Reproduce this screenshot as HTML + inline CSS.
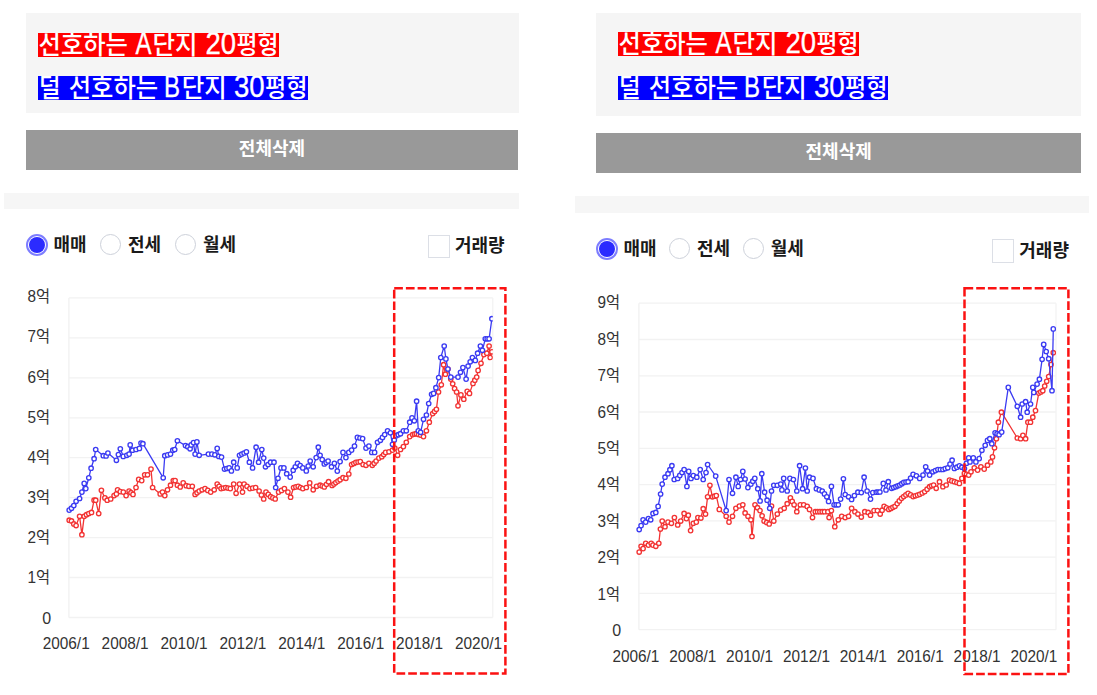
<!DOCTYPE html>
<html lang="ko"><head><meta charset="utf-8"><title>chart</title>
<style>
html,body{margin:0;padding:0;background:#fff}
body{width:1097px;height:695px;position:relative;overflow:hidden;font-family:"Liberation Sans","Noto Sans CJK KR",sans-serif}
.box{position:absolute;background:#f5f5f5}
.strip{position:absolute;background:#f6f6f6}
.tagsvg{position:absolute;overflow:hidden}
.tagsvg text{font-family:"Liberation Sans","Noto Sans CJK KR",sans-serif;font-size:26.5px;font-weight:500;fill:#fff}
.tagsvg text.lat{font-size:31px;font-weight:400;stroke:#fff;stroke-width:0.35px}
.btn{position:absolute;background:#999;color:#fff;font-weight:bold;font-size:18px;text-align:center}
.radio{position:absolute;width:19px;height:19px;border:1.5px solid #cdd1da;border-radius:50%;background:#fff}
.radio.on{border:2px solid #7d7dff;width:18px;height:18px}
.radio.on::after{content:"";position:absolute;left:1px;top:1px;width:16px;height:16px;border-radius:50%;background:#2b2bff}
.lbl{position:absolute;font-weight:bold;font-size:18px;line-height:24px;color:#1a1a1a;white-space:nowrap}
.cb{position:absolute;box-sizing:border-box;border:1px solid #dcdfe6;background:#fff}
</style></head><body>
<div class="box" style="left:25.7px;top:12.7px;width:492.90000000000003px;height:100.6px"></div>
<svg class="tagsvg" style="left:37.7px;top:32.7px" width="241.2" height="24" viewBox="0 0 241.2 24"><rect width="241.2" height="24" fill="#ff0000"/><text x="0.6" y="21.2" textLength="89.3" lengthAdjust="spacingAndGlyphs">선호하는</text><text class="lat" x="97.6" y="21.2" textLength="16" lengthAdjust="spacingAndGlyphs">A</text><text x="114.5" y="21.2" textLength="45" lengthAdjust="spacingAndGlyphs">단지</text><text class="lat" x="167.5" y="21.2" textLength="30.6" lengthAdjust="spacingAndGlyphs">20</text><text x="198.5" y="21.2" textLength="42" lengthAdjust="spacingAndGlyphs">평형</text></svg>
<svg class="tagsvg" style="left:37.7px;top:76.0px" width="270" height="24" viewBox="0 0 270 24"><rect width="270" height="24" fill="#0000ff"/><text x="0.9" y="21.2" textLength="21.6" lengthAdjust="spacingAndGlyphs">덜</text><text x="30.8" y="21.2" textLength="89.3" lengthAdjust="spacingAndGlyphs">선호하는</text><text class="lat" x="126.0" y="21.2" textLength="16" lengthAdjust="spacingAndGlyphs">B</text><text x="143.8" y="21.2" textLength="45" lengthAdjust="spacingAndGlyphs">단지</text><text class="lat" x="196" y="21.2" textLength="30.6" lengthAdjust="spacingAndGlyphs">30</text><text x="227" y="21.2" textLength="42.5" lengthAdjust="spacingAndGlyphs">평형</text></svg>
<div class="btn" style="left:25.8px;top:130.2px;width:492.40000000000003px;height:40.0px;line-height:39.0px">전체삭제</div>
<div class="strip" style="left:4px;top:192.5px;width:514.7px;height:16.099999999999994px"></div>
<div class="radio on" style="left:25.5px;top:233.5px"></div><div class="lbl" style="left:53.5px;top:232.5px">매매</div>
<div class="radio" style="left:100px;top:233.5px"></div><div class="lbl" style="left:128px;top:232.5px">전세</div>
<div class="radio" style="left:175px;top:233.5px"></div><div class="lbl" style="left:203px;top:232.5px">월세</div>
<div class="cb" style="left:427.8px;top:235px;width:22.0px;height:22.80000000000001px"></div><div class="lbl" style="left:455px;top:234.4px">거래량</div>
<div class="box" style="left:595.9px;top:12.6px;width:485.5000000000001px;height:103.30000000000001px"></div>
<svg class="tagsvg" style="left:618.2px;top:32.4px" width="241.2" height="24" viewBox="0 0 241.2 24"><rect width="241.2" height="24" fill="#ff0000"/><text x="0.6" y="21.2" textLength="89.3" lengthAdjust="spacingAndGlyphs">선호하는</text><text class="lat" x="97.6" y="21.2" textLength="16" lengthAdjust="spacingAndGlyphs">A</text><text x="114.5" y="21.2" textLength="45" lengthAdjust="spacingAndGlyphs">단지</text><text class="lat" x="167.5" y="21.2" textLength="30.6" lengthAdjust="spacingAndGlyphs">20</text><text x="198.5" y="21.2" textLength="42" lengthAdjust="spacingAndGlyphs">평형</text></svg>
<svg class="tagsvg" style="left:618.2px;top:76.0px" width="270" height="24" viewBox="0 0 270 24"><rect width="270" height="24" fill="#0000ff"/><text x="0.9" y="21.2" textLength="21.6" lengthAdjust="spacingAndGlyphs">덜</text><text x="30.8" y="21.2" textLength="89.3" lengthAdjust="spacingAndGlyphs">선호하는</text><text class="lat" x="126.0" y="21.2" textLength="16" lengthAdjust="spacingAndGlyphs">B</text><text x="143.8" y="21.2" textLength="45" lengthAdjust="spacingAndGlyphs">단지</text><text class="lat" x="196" y="21.2" textLength="30.6" lengthAdjust="spacingAndGlyphs">30</text><text x="227" y="21.2" textLength="42.5" lengthAdjust="spacingAndGlyphs">평형</text></svg>
<div class="btn" style="left:596.4px;top:132.5px;width:484.5000000000001px;height:40.69999999999999px;line-height:39.69999999999999px">전체삭제</div>
<div class="strip" style="left:575.1px;top:196.2px;width:514.3000000000001px;height:16.5px"></div>
<div class="radio on" style="left:595.8px;top:237.7px"></div><div class="lbl" style="left:623.5px;top:236.7px">매매</div>
<div class="radio" style="left:669.3px;top:237.7px"></div><div class="lbl" style="left:697.0px;top:236.7px">전세</div>
<div class="radio" style="left:743px;top:237.7px"></div><div class="lbl" style="left:770.7px;top:236.7px">월세</div>
<div class="cb" style="left:992.2px;top:239.4px;width:21.59999999999991px;height:23.299999999999983px"></div><div class="lbl" style="left:1019.3px;top:239.05px">거래량</div>
<svg width="1097" height="695" viewBox="0 0 1097 695" style="position:absolute;left:0;top:0">
<style>.ax{font-family:"Liberation Sans","Noto Sans CJK KR",sans-serif;font-size:16px;fill:#333}</style>
<line x1="68.9" y1="297.9" x2="492.8" y2="297.9" stroke="#f2f2f2" stroke-width="1.3"/>
<line x1="68.9" y1="337.8" x2="492.8" y2="337.8" stroke="#f2f2f2" stroke-width="1.3"/>
<line x1="68.9" y1="377.8" x2="492.8" y2="377.8" stroke="#f2f2f2" stroke-width="1.3"/>
<line x1="68.9" y1="417.8" x2="492.8" y2="417.8" stroke="#f2f2f2" stroke-width="1.3"/>
<line x1="68.9" y1="457.7" x2="492.8" y2="457.7" stroke="#f2f2f2" stroke-width="1.3"/>
<line x1="68.9" y1="497.6" x2="492.8" y2="497.6" stroke="#f2f2f2" stroke-width="1.3"/>
<line x1="68.9" y1="537.6" x2="492.8" y2="537.6" stroke="#f2f2f2" stroke-width="1.3"/>
<line x1="68.9" y1="577.5" x2="492.8" y2="577.5" stroke="#f2f2f2" stroke-width="1.3"/>
<line x1="68.9" y1="617.5" x2="492.8" y2="617.5" stroke="#f2f2f2" stroke-width="1.3"/>
<line x1="68.9" y1="297.9" x2="68.9" y2="617.5" stroke="#f0f0f0" stroke-width="1.3"/>
<line x1="492.8" y1="297.9" x2="492.8" y2="617.5" stroke="#f3f3f3" stroke-width="1.3"/>
<text x="50.0" y="302.3" text-anchor="end" class="ax" textLength="22.6" lengthAdjust="spacingAndGlyphs">8억</text>
<text x="50.0" y="342.4" text-anchor="end" class="ax" textLength="22.6" lengthAdjust="spacingAndGlyphs">7억</text>
<text x="50.0" y="382.6" text-anchor="end" class="ax" textLength="22.6" lengthAdjust="spacingAndGlyphs">6억</text>
<text x="50.0" y="422.7" text-anchor="end" class="ax" textLength="22.6" lengthAdjust="spacingAndGlyphs">5억</text>
<text x="50.0" y="462.9" text-anchor="end" class="ax" textLength="22.6" lengthAdjust="spacingAndGlyphs">4억</text>
<text x="50.0" y="503.0" text-anchor="end" class="ax" textLength="22.6" lengthAdjust="spacingAndGlyphs">3억</text>
<text x="50.0" y="543.2" text-anchor="end" class="ax" textLength="22.6" lengthAdjust="spacingAndGlyphs">2억</text>
<text x="50.0" y="583.4" text-anchor="end" class="ax" textLength="22.6" lengthAdjust="spacingAndGlyphs">1억</text>
<text x="51.1" y="623.5" text-anchor="end" class="ax">0</text>
<text x="66.2" y="649" text-anchor="middle" class="ax" textLength="47" lengthAdjust="spacingAndGlyphs">2006/1</text>
<text x="125.1" y="649" text-anchor="middle" class="ax" textLength="47" lengthAdjust="spacingAndGlyphs">2008/1</text>
<text x="184.0" y="649" text-anchor="middle" class="ax" textLength="47" lengthAdjust="spacingAndGlyphs">2010/1</text>
<text x="242.9" y="649" text-anchor="middle" class="ax" textLength="47" lengthAdjust="spacingAndGlyphs">2012/1</text>
<text x="301.8" y="649" text-anchor="middle" class="ax" textLength="47" lengthAdjust="spacingAndGlyphs">2014/1</text>
<text x="360.7" y="649" text-anchor="middle" class="ax" textLength="47" lengthAdjust="spacingAndGlyphs">2016/1</text>
<text x="419.6" y="649" text-anchor="middle" class="ax" textLength="47" lengthAdjust="spacingAndGlyphs">2018/1</text>
<text x="478.5" y="649" text-anchor="middle" class="ax" textLength="47" lengthAdjust="spacingAndGlyphs">2020/1</text>
<clipPath id="cpL"><rect x="65.9" y="294.9" width="426.9" height="325.6"/></clipPath>
<g clip-path="url(#cpL)">
<polyline points="69.2,520.2 71.5,520.9 73.8,523.9 76.1,525.5 79.6,516.3 81.9,534.7 84.2,516.3 86.5,514.7 88.8,513.5 91.5,512.4 94.1,500.2 95.7,500.2 98.7,513.5 101.4,490.3 104.9,497.9 107.2,500.2 110.7,499.0 114.1,495.6 116.4,493.9 117.6,489.8 120.3,491.6 123.3,492.1 126.1,495.6 129.1,491.0 131.0,492.7 133.0,494.4 136.0,487.5 138.7,479.4 141.7,480.6 144.7,474.8 147.5,474.8 151.0,469.1 152.6,487.5 160.2,493.9 162.5,492.1 164.8,495.6 167.5,489.8 170.5,485.2 173.3,480.6 175.1,480.6 177.4,485.2 180.2,487.0 183.2,482.9 186.2,485.7 188.9,486.3 192.3,486.3 195.1,494.4 197.1,492.7 199.2,491.0 202.1,489.8 205.0,488.6 207.8,490.4 210.7,492.1 214.2,489.8 217.2,484.0 219.1,486.3 221.1,488.6 223.4,488.1 225.7,487.5 228.0,488.1 230.3,488.6 233.7,484.0 236.1,493.3 239.5,484.0 242.5,492.1 244.1,484.0 247.0,486.3 249.9,488.6 252.7,488.1 255.6,487.5 259.1,491.0 261.4,495.0 263.7,499.0 266.0,492.1 268.3,494.4 270.6,496.7 272.9,497.9 275.2,499.0 278.6,492.1 281.5,490.4 284.4,488.6 287.9,492.1 290.6,497.2 293.6,487.5 295.9,486.9 298.2,486.3 300.5,487.5 302.8,488.6 306.3,487.5 309.7,482.9 313.2,489.8 316.6,486.3 320.1,485.2 322.2,486.0 324.3,486.9 326.5,484.3 328.6,481.7 332.1,485.5 333.9,484.0 335.8,482.6 338.0,481.1 340.1,479.7 343.0,477.7 345.9,478.3 348.8,474.0 351.6,464.5 353.8,463.5 355.9,462.4 358.1,462.0 360.3,461.6 363.1,464.5 366.0,465.3 368.9,463.3 372.3,465.3 374.2,463.2 376.1,461.0 378.9,458.1 381.8,456.7 383.7,454.5 385.6,452.4 389.0,451.8 392.5,450.1 394.8,448.1 397.6,455.3 400.5,449.5 403.4,446.6 406.3,442.3 409.7,436.6 412.6,434.6 414.5,434.1 416.3,433.7 418.5,434.4 420.6,435.1 423.5,436.6 426.4,430.8 429.3,422.2 432.7,413.6 434.6,411.4 436.4,409.3 438.5,392.0 441.3,384.8 443.6,364.7 445.4,374.2 447.9,369.0 450.8,379.1 452.7,383.8 454.6,388.6 456.6,392.0 458.0,405.8 460.9,394.9 463.8,399.2 467.2,391.4 469.5,393.4 473.0,383.4 474.8,380.2 476.7,377.1 478.1,370.4 481.0,363.3 483.9,354.6 486.8,353.2 489.1,346.0 490.2,357.5 491.9,351.8" fill="none" stroke="#f23333" stroke-width="1.3" stroke-linejoin="round"/>
<g fill="#fff" stroke="#f23333" stroke-width="1.35"><circle cx="69.2" cy="520.2" r="2.2"/><circle cx="71.5" cy="520.9" r="2.2"/><circle cx="73.8" cy="523.9" r="2.2"/><circle cx="76.1" cy="525.5" r="2.2"/><circle cx="79.6" cy="516.3" r="2.2"/><circle cx="81.9" cy="534.7" r="2.2"/><circle cx="84.2" cy="516.3" r="2.2"/><circle cx="86.5" cy="514.7" r="2.2"/><circle cx="88.8" cy="513.5" r="2.2"/><circle cx="91.5" cy="512.4" r="2.2"/><circle cx="94.1" cy="500.2" r="2.2"/><circle cx="95.7" cy="500.2" r="2.2"/><circle cx="98.7" cy="513.5" r="2.2"/><circle cx="101.4" cy="490.3" r="2.2"/><circle cx="104.9" cy="497.9" r="2.2"/><circle cx="107.2" cy="500.2" r="2.2"/><circle cx="110.7" cy="499.0" r="2.2"/><circle cx="114.1" cy="495.6" r="2.2"/><circle cx="116.4" cy="493.9" r="2.2"/><circle cx="117.6" cy="489.8" r="2.2"/><circle cx="120.3" cy="491.6" r="2.2"/><circle cx="123.3" cy="492.1" r="2.2"/><circle cx="126.1" cy="495.6" r="2.2"/><circle cx="129.1" cy="491.0" r="2.2"/><circle cx="131.0" cy="492.7" r="2.2"/><circle cx="133.0" cy="494.4" r="2.2"/><circle cx="136.0" cy="487.5" r="2.2"/><circle cx="138.7" cy="479.4" r="2.2"/><circle cx="141.7" cy="480.6" r="2.2"/><circle cx="144.7" cy="474.8" r="2.2"/><circle cx="147.5" cy="474.8" r="2.2"/><circle cx="151.0" cy="469.1" r="2.2"/><circle cx="152.6" cy="487.5" r="2.2"/><circle cx="160.2" cy="493.9" r="2.2"/><circle cx="162.5" cy="492.1" r="2.2"/><circle cx="164.8" cy="495.6" r="2.2"/><circle cx="167.5" cy="489.8" r="2.2"/><circle cx="170.5" cy="485.2" r="2.2"/><circle cx="173.3" cy="480.6" r="2.2"/><circle cx="175.1" cy="480.6" r="2.2"/><circle cx="177.4" cy="485.2" r="2.2"/><circle cx="180.2" cy="487.0" r="2.2"/><circle cx="183.2" cy="482.9" r="2.2"/><circle cx="186.2" cy="485.7" r="2.2"/><circle cx="188.9" cy="486.3" r="2.2"/><circle cx="192.3" cy="486.3" r="2.2"/><circle cx="195.1" cy="494.4" r="2.2"/><circle cx="197.1" cy="492.7" r="2.2"/><circle cx="199.2" cy="491.0" r="2.2"/><circle cx="202.1" cy="489.8" r="2.2"/><circle cx="205.0" cy="488.6" r="2.2"/><circle cx="207.8" cy="490.4" r="2.2"/><circle cx="210.7" cy="492.1" r="2.2"/><circle cx="214.2" cy="489.8" r="2.2"/><circle cx="217.2" cy="484.0" r="2.2"/><circle cx="219.1" cy="486.3" r="2.2"/><circle cx="221.1" cy="488.6" r="2.2"/><circle cx="223.4" cy="488.1" r="2.2"/><circle cx="225.7" cy="487.5" r="2.2"/><circle cx="228.0" cy="488.1" r="2.2"/><circle cx="230.3" cy="488.6" r="2.2"/><circle cx="233.7" cy="484.0" r="2.2"/><circle cx="236.1" cy="493.3" r="2.2"/><circle cx="239.5" cy="484.0" r="2.2"/><circle cx="242.5" cy="492.1" r="2.2"/><circle cx="244.1" cy="484.0" r="2.2"/><circle cx="247.0" cy="486.3" r="2.2"/><circle cx="249.9" cy="488.6" r="2.2"/><circle cx="252.7" cy="488.1" r="2.2"/><circle cx="255.6" cy="487.5" r="2.2"/><circle cx="259.1" cy="491.0" r="2.2"/><circle cx="261.4" cy="495.0" r="2.2"/><circle cx="263.7" cy="499.0" r="2.2"/><circle cx="266.0" cy="492.1" r="2.2"/><circle cx="268.3" cy="494.4" r="2.2"/><circle cx="270.6" cy="496.7" r="2.2"/><circle cx="272.9" cy="497.9" r="2.2"/><circle cx="275.2" cy="499.0" r="2.2"/><circle cx="278.6" cy="492.1" r="2.2"/><circle cx="281.5" cy="490.4" r="2.2"/><circle cx="284.4" cy="488.6" r="2.2"/><circle cx="287.9" cy="492.1" r="2.2"/><circle cx="290.6" cy="497.2" r="2.2"/><circle cx="293.6" cy="487.5" r="2.2"/><circle cx="295.9" cy="486.9" r="2.2"/><circle cx="298.2" cy="486.3" r="2.2"/><circle cx="300.5" cy="487.5" r="2.2"/><circle cx="302.8" cy="488.6" r="2.2"/><circle cx="306.3" cy="487.5" r="2.2"/><circle cx="309.7" cy="482.9" r="2.2"/><circle cx="313.2" cy="489.8" r="2.2"/><circle cx="316.6" cy="486.3" r="2.2"/><circle cx="320.1" cy="485.2" r="2.2"/><circle cx="322.2" cy="486.0" r="2.2"/><circle cx="324.3" cy="486.9" r="2.2"/><circle cx="326.5" cy="484.3" r="2.2"/><circle cx="328.6" cy="481.7" r="2.2"/><circle cx="332.1" cy="485.5" r="2.2"/><circle cx="333.9" cy="484.0" r="2.2"/><circle cx="335.8" cy="482.6" r="2.2"/><circle cx="338.0" cy="481.1" r="2.2"/><circle cx="340.1" cy="479.7" r="2.2"/><circle cx="343.0" cy="477.7" r="2.2"/><circle cx="345.9" cy="478.3" r="2.2"/><circle cx="348.8" cy="474.0" r="2.2"/><circle cx="351.6" cy="464.5" r="2.2"/><circle cx="353.8" cy="463.5" r="2.2"/><circle cx="355.9" cy="462.4" r="2.2"/><circle cx="358.1" cy="462.0" r="2.2"/><circle cx="360.3" cy="461.6" r="2.2"/><circle cx="363.1" cy="464.5" r="2.2"/><circle cx="366.0" cy="465.3" r="2.2"/><circle cx="368.9" cy="463.3" r="2.2"/><circle cx="372.3" cy="465.3" r="2.2"/><circle cx="374.2" cy="463.2" r="2.2"/><circle cx="376.1" cy="461.0" r="2.2"/><circle cx="378.9" cy="458.1" r="2.2"/><circle cx="381.8" cy="456.7" r="2.2"/><circle cx="383.7" cy="454.5" r="2.2"/><circle cx="385.6" cy="452.4" r="2.2"/><circle cx="389.0" cy="451.8" r="2.2"/><circle cx="392.5" cy="450.1" r="2.2"/><circle cx="394.8" cy="448.1" r="2.2"/><circle cx="397.6" cy="455.3" r="2.2"/><circle cx="400.5" cy="449.5" r="2.2"/><circle cx="403.4" cy="446.6" r="2.2"/><circle cx="406.3" cy="442.3" r="2.2"/><circle cx="409.7" cy="436.6" r="2.2"/><circle cx="412.6" cy="434.6" r="2.2"/><circle cx="414.5" cy="434.1" r="2.2"/><circle cx="416.3" cy="433.7" r="2.2"/><circle cx="418.5" cy="434.4" r="2.2"/><circle cx="420.6" cy="435.1" r="2.2"/><circle cx="423.5" cy="436.6" r="2.2"/><circle cx="426.4" cy="430.8" r="2.2"/><circle cx="429.3" cy="422.2" r="2.2"/><circle cx="432.7" cy="413.6" r="2.2"/><circle cx="434.6" cy="411.4" r="2.2"/><circle cx="436.4" cy="409.3" r="2.2"/><circle cx="438.5" cy="392.0" r="2.2"/><circle cx="441.3" cy="384.8" r="2.2"/><circle cx="443.6" cy="364.7" r="2.2"/><circle cx="445.4" cy="374.2" r="2.2"/><circle cx="447.9" cy="369.0" r="2.2"/><circle cx="450.8" cy="379.1" r="2.2"/><circle cx="452.7" cy="383.8" r="2.2"/><circle cx="454.6" cy="388.6" r="2.2"/><circle cx="456.6" cy="392.0" r="2.2"/><circle cx="458.0" cy="405.8" r="2.2"/><circle cx="460.9" cy="394.9" r="2.2"/><circle cx="463.8" cy="399.2" r="2.2"/><circle cx="467.2" cy="391.4" r="2.2"/><circle cx="469.5" cy="393.4" r="2.2"/><circle cx="473.0" cy="383.4" r="2.2"/><circle cx="474.8" cy="380.2" r="2.2"/><circle cx="476.7" cy="377.1" r="2.2"/><circle cx="478.1" cy="370.4" r="2.2"/><circle cx="481.0" cy="363.3" r="2.2"/><circle cx="483.9" cy="354.6" r="2.2"/><circle cx="486.8" cy="353.2" r="2.2"/><circle cx="489.1" cy="346.0" r="2.2"/><circle cx="490.2" cy="357.5" r="2.2"/><circle cx="491.9" cy="351.8" r="2.2"/></g>
<polyline points="69.2,510.1 71.5,508.2 73.8,505.5 76.1,501.3 79.6,498.5 81.9,492.1 84.2,483.4 85.8,488.6 88.8,477.8 91.1,468.2 94.1,458.7 95.7,449.5 103.3,455.7 106.1,456.0 107.9,453.0 116.4,460.3 118.4,454.6 120.3,448.8 123.3,456.4 126.8,455.3 129.1,454.1 130.2,444.9 132.5,450.2 136.0,449.5 139.4,448.4 141.0,443.1 142.9,443.7 163.2,477.8 164.8,455.7 167.6,454.9 170.5,454.1 172.8,450.2 174.7,449.5 177.4,440.8 185.5,445.6 187.8,446.7 190.1,448.8 191.2,444.9 193.5,442.6 195.1,454.1 196.9,441.9 199.2,455.3 208.4,454.1 211.9,454.1 214.9,454.8 217.2,448.4 218.8,456.4 221.5,457.1 224.5,469.1 226.8,468.5 229.1,467.9 231.4,470.9 233.7,462.2 237.2,467.9 239.5,455.3 241.8,454.1 244.1,453.0 246.4,451.8 249.4,462.2 252.6,467.9 256.1,447.2 258.6,462.2 261.8,449.5 263.7,458.1 265.5,466.8 268.1,464.5 270.6,462.2 274.0,462.2 275.7,487.5 278.0,478.3 281.0,467.9 283.9,467.9 286.7,473.7 290.2,477.1 293.2,470.2 295.3,466.8 297.5,463.3 300.2,465.6 302.8,467.9 306.3,470.9 308.2,466.0 310.2,461.0 313.2,466.8 316.2,457.6 318.3,447.2 320.1,455.3 322.2,459.6 324.3,463.9 326.2,462.4 328.1,461.0 331.5,466.8 334.4,463.3 337.3,471.1 340.1,461.6 343.0,452.4 345.9,457.6 348.8,452.4 351.6,450.1 354.5,446.1 357.4,437.4 360.0,438.0 362.6,438.6 366.0,448.1 368.9,446.1 371.8,452.4 374.6,452.4 377.5,442.3 380.4,440.3 382.5,437.4 384.7,434.6 387.6,430.8 390.4,432.8 392.5,444.3 394.3,440.0 396.2,435.7 398.3,434.7 400.5,433.7 403.4,430.8 406.3,430.8 409.7,422.2 412.0,417.9 414.3,420.8 416.6,401.2 418.3,430.8 420.6,432.3 423.5,419.3 426.4,415.0 428.7,403.5 431.6,394.3 433.6,393.4 435.9,387.7 438.7,377.6 440.8,357.5 444.2,346.0 445.9,358.9 447.9,369.0 450.8,377.1 458.0,377.1 460.5,372.3 462.9,367.6 466.1,379.1 468.1,366.1 470.2,361.8 472.4,357.5 475.3,360.4 477.6,353.2 480.4,346.0 482.4,350.3 485.3,338.8 487.2,338.8 489.1,338.8 491.9,318.7" fill="none" stroke="#3b3bf2" stroke-width="1.3" stroke-linejoin="round"/>
<g fill="#fff" stroke="#3b3bf2" stroke-width="1.35"><circle cx="69.2" cy="510.1" r="2.2"/><circle cx="71.5" cy="508.2" r="2.2"/><circle cx="73.8" cy="505.5" r="2.2"/><circle cx="76.1" cy="501.3" r="2.2"/><circle cx="79.6" cy="498.5" r="2.2"/><circle cx="81.9" cy="492.1" r="2.2"/><circle cx="84.2" cy="483.4" r="2.2"/><circle cx="85.8" cy="488.6" r="2.2"/><circle cx="88.8" cy="477.8" r="2.2"/><circle cx="91.1" cy="468.2" r="2.2"/><circle cx="94.1" cy="458.7" r="2.2"/><circle cx="95.7" cy="449.5" r="2.2"/><circle cx="103.3" cy="455.7" r="2.2"/><circle cx="106.1" cy="456.0" r="2.2"/><circle cx="107.9" cy="453.0" r="2.2"/><circle cx="116.4" cy="460.3" r="2.2"/><circle cx="118.4" cy="454.6" r="2.2"/><circle cx="120.3" cy="448.8" r="2.2"/><circle cx="123.3" cy="456.4" r="2.2"/><circle cx="126.8" cy="455.3" r="2.2"/><circle cx="129.1" cy="454.1" r="2.2"/><circle cx="130.2" cy="444.9" r="2.2"/><circle cx="132.5" cy="450.2" r="2.2"/><circle cx="136.0" cy="449.5" r="2.2"/><circle cx="139.4" cy="448.4" r="2.2"/><circle cx="141.0" cy="443.1" r="2.2"/><circle cx="142.9" cy="443.7" r="2.2"/><circle cx="163.2" cy="477.8" r="2.2"/><circle cx="164.8" cy="455.7" r="2.2"/><circle cx="167.6" cy="454.9" r="2.2"/><circle cx="170.5" cy="454.1" r="2.2"/><circle cx="172.8" cy="450.2" r="2.2"/><circle cx="174.7" cy="449.5" r="2.2"/><circle cx="177.4" cy="440.8" r="2.2"/><circle cx="185.5" cy="445.6" r="2.2"/><circle cx="187.8" cy="446.7" r="2.2"/><circle cx="190.1" cy="448.8" r="2.2"/><circle cx="191.2" cy="444.9" r="2.2"/><circle cx="193.5" cy="442.6" r="2.2"/><circle cx="195.1" cy="454.1" r="2.2"/><circle cx="196.9" cy="441.9" r="2.2"/><circle cx="199.2" cy="455.3" r="2.2"/><circle cx="208.4" cy="454.1" r="2.2"/><circle cx="211.9" cy="454.1" r="2.2"/><circle cx="214.9" cy="454.8" r="2.2"/><circle cx="217.2" cy="448.4" r="2.2"/><circle cx="218.8" cy="456.4" r="2.2"/><circle cx="221.5" cy="457.1" r="2.2"/><circle cx="224.5" cy="469.1" r="2.2"/><circle cx="226.8" cy="468.5" r="2.2"/><circle cx="229.1" cy="467.9" r="2.2"/><circle cx="231.4" cy="470.9" r="2.2"/><circle cx="233.7" cy="462.2" r="2.2"/><circle cx="237.2" cy="467.9" r="2.2"/><circle cx="239.5" cy="455.3" r="2.2"/><circle cx="241.8" cy="454.1" r="2.2"/><circle cx="244.1" cy="453.0" r="2.2"/><circle cx="246.4" cy="451.8" r="2.2"/><circle cx="249.4" cy="462.2" r="2.2"/><circle cx="252.6" cy="467.9" r="2.2"/><circle cx="256.1" cy="447.2" r="2.2"/><circle cx="258.6" cy="462.2" r="2.2"/><circle cx="261.8" cy="449.5" r="2.2"/><circle cx="263.7" cy="458.1" r="2.2"/><circle cx="265.5" cy="466.8" r="2.2"/><circle cx="268.1" cy="464.5" r="2.2"/><circle cx="270.6" cy="462.2" r="2.2"/><circle cx="274.0" cy="462.2" r="2.2"/><circle cx="275.7" cy="487.5" r="2.2"/><circle cx="278.0" cy="478.3" r="2.2"/><circle cx="281.0" cy="467.9" r="2.2"/><circle cx="283.9" cy="467.9" r="2.2"/><circle cx="286.7" cy="473.7" r="2.2"/><circle cx="290.2" cy="477.1" r="2.2"/><circle cx="293.2" cy="470.2" r="2.2"/><circle cx="295.3" cy="466.8" r="2.2"/><circle cx="297.5" cy="463.3" r="2.2"/><circle cx="300.2" cy="465.6" r="2.2"/><circle cx="302.8" cy="467.9" r="2.2"/><circle cx="306.3" cy="470.9" r="2.2"/><circle cx="308.2" cy="466.0" r="2.2"/><circle cx="310.2" cy="461.0" r="2.2"/><circle cx="313.2" cy="466.8" r="2.2"/><circle cx="316.2" cy="457.6" r="2.2"/><circle cx="318.3" cy="447.2" r="2.2"/><circle cx="320.1" cy="455.3" r="2.2"/><circle cx="322.2" cy="459.6" r="2.2"/><circle cx="324.3" cy="463.9" r="2.2"/><circle cx="326.2" cy="462.4" r="2.2"/><circle cx="328.1" cy="461.0" r="2.2"/><circle cx="331.5" cy="466.8" r="2.2"/><circle cx="334.4" cy="463.3" r="2.2"/><circle cx="337.3" cy="471.1" r="2.2"/><circle cx="340.1" cy="461.6" r="2.2"/><circle cx="343.0" cy="452.4" r="2.2"/><circle cx="345.9" cy="457.6" r="2.2"/><circle cx="348.8" cy="452.4" r="2.2"/><circle cx="351.6" cy="450.1" r="2.2"/><circle cx="354.5" cy="446.1" r="2.2"/><circle cx="357.4" cy="437.4" r="2.2"/><circle cx="360.0" cy="438.0" r="2.2"/><circle cx="362.6" cy="438.6" r="2.2"/><circle cx="366.0" cy="448.1" r="2.2"/><circle cx="368.9" cy="446.1" r="2.2"/><circle cx="371.8" cy="452.4" r="2.2"/><circle cx="374.6" cy="452.4" r="2.2"/><circle cx="377.5" cy="442.3" r="2.2"/><circle cx="380.4" cy="440.3" r="2.2"/><circle cx="382.5" cy="437.4" r="2.2"/><circle cx="384.7" cy="434.6" r="2.2"/><circle cx="387.6" cy="430.8" r="2.2"/><circle cx="390.4" cy="432.8" r="2.2"/><circle cx="392.5" cy="444.3" r="2.2"/><circle cx="394.3" cy="440.0" r="2.2"/><circle cx="396.2" cy="435.7" r="2.2"/><circle cx="398.3" cy="434.7" r="2.2"/><circle cx="400.5" cy="433.7" r="2.2"/><circle cx="403.4" cy="430.8" r="2.2"/><circle cx="406.3" cy="430.8" r="2.2"/><circle cx="409.7" cy="422.2" r="2.2"/><circle cx="412.0" cy="417.9" r="2.2"/><circle cx="414.3" cy="420.8" r="2.2"/><circle cx="416.6" cy="401.2" r="2.2"/><circle cx="418.3" cy="430.8" r="2.2"/><circle cx="420.6" cy="432.3" r="2.2"/><circle cx="423.5" cy="419.3" r="2.2"/><circle cx="426.4" cy="415.0" r="2.2"/><circle cx="428.7" cy="403.5" r="2.2"/><circle cx="431.6" cy="394.3" r="2.2"/><circle cx="433.6" cy="393.4" r="2.2"/><circle cx="435.9" cy="387.7" r="2.2"/><circle cx="438.7" cy="377.6" r="2.2"/><circle cx="440.8" cy="357.5" r="2.2"/><circle cx="444.2" cy="346.0" r="2.2"/><circle cx="445.9" cy="358.9" r="2.2"/><circle cx="447.9" cy="369.0" r="2.2"/><circle cx="450.8" cy="377.1" r="2.2"/><circle cx="458.0" cy="377.1" r="2.2"/><circle cx="460.5" cy="372.3" r="2.2"/><circle cx="462.9" cy="367.6" r="2.2"/><circle cx="466.1" cy="379.1" r="2.2"/><circle cx="468.1" cy="366.1" r="2.2"/><circle cx="470.2" cy="361.8" r="2.2"/><circle cx="472.4" cy="357.5" r="2.2"/><circle cx="475.3" cy="360.4" r="2.2"/><circle cx="477.6" cy="353.2" r="2.2"/><circle cx="480.4" cy="346.0" r="2.2"/><circle cx="482.4" cy="350.3" r="2.2"/><circle cx="485.3" cy="338.8" r="2.2"/><circle cx="487.2" cy="338.8" r="2.2"/><circle cx="489.1" cy="338.8" r="2.2"/><circle cx="491.9" cy="318.7" r="2.2"/></g>
</g>
<rect x="394.2" y="288.2" width="111.19999999999999" height="385.3" fill="none" stroke="#fb1212" stroke-width="2.5" stroke-dasharray="8.7,3"/>
<line x1="638.9" y1="303.2" x2="1056" y2="303.2" stroke="#f2f2f2" stroke-width="1.3"/>
<line x1="638.9" y1="339.5" x2="1056" y2="339.5" stroke="#f2f2f2" stroke-width="1.3"/>
<line x1="638.9" y1="375.8" x2="1056" y2="375.8" stroke="#f2f2f2" stroke-width="1.3"/>
<line x1="638.9" y1="412.0" x2="1056" y2="412.0" stroke="#f2f2f2" stroke-width="1.3"/>
<line x1="638.9" y1="448.3" x2="1056" y2="448.3" stroke="#f2f2f2" stroke-width="1.3"/>
<line x1="638.9" y1="484.6" x2="1056" y2="484.6" stroke="#f2f2f2" stroke-width="1.3"/>
<line x1="638.9" y1="520.9" x2="1056" y2="520.9" stroke="#f2f2f2" stroke-width="1.3"/>
<line x1="638.9" y1="557.1" x2="1056" y2="557.1" stroke="#f2f2f2" stroke-width="1.3"/>
<line x1="638.9" y1="593.4" x2="1056" y2="593.4" stroke="#f2f2f2" stroke-width="1.3"/>
<line x1="638.9" y1="629.7" x2="1056" y2="629.7" stroke="#f2f2f2" stroke-width="1.3"/>
<line x1="638.9" y1="303.2" x2="638.9" y2="629.7" stroke="#f0f0f0" stroke-width="1.3"/>
<line x1="1056" y1="303.2" x2="1056" y2="629.7" stroke="#f3f3f3" stroke-width="1.3"/>
<text x="620.0" y="308.3" text-anchor="end" class="ax" textLength="22.6" lengthAdjust="spacingAndGlyphs">9억</text>
<text x="620.0" y="344.7" text-anchor="end" class="ax" textLength="22.6" lengthAdjust="spacingAndGlyphs">8억</text>
<text x="620.0" y="381.1" text-anchor="end" class="ax" textLength="22.6" lengthAdjust="spacingAndGlyphs">7억</text>
<text x="620.0" y="417.5" text-anchor="end" class="ax" textLength="22.6" lengthAdjust="spacingAndGlyphs">6억</text>
<text x="620.0" y="453.9" text-anchor="end" class="ax" textLength="22.6" lengthAdjust="spacingAndGlyphs">5억</text>
<text x="620.0" y="490.3" text-anchor="end" class="ax" textLength="22.6" lengthAdjust="spacingAndGlyphs">4억</text>
<text x="620.0" y="526.7" text-anchor="end" class="ax" textLength="22.6" lengthAdjust="spacingAndGlyphs">3억</text>
<text x="620.0" y="563.1" text-anchor="end" class="ax" textLength="22.6" lengthAdjust="spacingAndGlyphs">2억</text>
<text x="620.0" y="599.5" text-anchor="end" class="ax" textLength="22.6" lengthAdjust="spacingAndGlyphs">1억</text>
<text x="621.1" y="635.9" text-anchor="end" class="ax">0</text>
<text x="635.9" y="661.5" text-anchor="middle" class="ax" textLength="47" lengthAdjust="spacingAndGlyphs">2006/1</text>
<text x="692.8" y="661.5" text-anchor="middle" class="ax" textLength="47" lengthAdjust="spacingAndGlyphs">2008/1</text>
<text x="749.6" y="661.5" text-anchor="middle" class="ax" textLength="47" lengthAdjust="spacingAndGlyphs">2010/1</text>
<text x="806.5" y="661.5" text-anchor="middle" class="ax" textLength="47" lengthAdjust="spacingAndGlyphs">2012/1</text>
<text x="863.3" y="661.5" text-anchor="middle" class="ax" textLength="47" lengthAdjust="spacingAndGlyphs">2014/1</text>
<text x="920.2" y="661.5" text-anchor="middle" class="ax" textLength="47" lengthAdjust="spacingAndGlyphs">2016/1</text>
<text x="977.1" y="661.5" text-anchor="middle" class="ax" textLength="47" lengthAdjust="spacingAndGlyphs">2018/1</text>
<text x="1033.9" y="661.5" text-anchor="middle" class="ax" textLength="47" lengthAdjust="spacingAndGlyphs">2020/1</text>
<clipPath id="cpR"><rect x="635.9" y="300.2" width="420.1" height="332.50000000000006"/></clipPath>
<g clip-path="url(#cpR)">
<polyline points="639.2,552.0 641.1,546.3 643.1,548.6 645.7,543.3 648.4,545.1 651.2,543.3 653.0,545.1 655.8,546.3 658.8,543.3 660.4,529.0 662.2,521.0 665.0,526.7 668.0,522.1 671.4,523.3 674.4,517.5 677.7,524.9 680.7,521.0 684.1,513.4 686.4,518.6 688.3,515.2 690.6,530.6 693.3,523.3 696.3,522.1 697.9,517.5 700.9,518.0 703.2,508.7 705.5,514.0 707.6,496.8 709.9,485.3 712.4,496.8 714.4,496.2 716.3,495.6 719.3,509.4 726.2,516.3 729.0,522.1 732.5,516.3 735.9,508.3 739.4,506.0 742.8,504.8 745.1,512.9 748.0,516.3 750.9,519.8 752.0,536.4 755.0,504.8 757.5,507.7 760.0,510.6 762.1,515.8 764.1,521.0 766.7,522.4 769.2,523.9 771.5,506.0 773.8,521.0 777.3,514.0 780.7,510.1 784.2,508.3 787.2,503.7 790.4,497.9 792.2,501.4 794.1,504.8 796.8,511.7 800.3,504.8 803.7,504.8 807.2,506.4 809.5,509.4 812.5,517.5 815.3,511.7 817.6,511.7 819.9,511.7 822.2,511.7 824.5,511.7 827.9,511.7 829.1,517.5 831.4,510.6 834.8,526.7 838.3,519.8 841.7,516.3 845.2,517.5 848.6,516.3 851.6,508.3 854.9,511.7 857.9,514.0 861.3,517.0 864.8,511.7 868.2,512.4 870.5,515.2 874.0,510.6 877.4,510.6 880.2,514.0 882.1,510.2 884.1,506.3 886.5,507.9 888.8,509.4 890.9,508.4 892.9,507.3 895.0,506.3 897.2,503.6 899.3,500.9 901.5,498.3 903.7,496.6 905.9,494.9 908.1,493.3 910.6,494.9 913.1,496.6 915.3,495.8 917.5,495.1 919.7,494.3 922.2,493.0 924.7,491.6 927.1,489.2 929.6,486.7 931.6,485.8 933.6,485.0 936.2,488.3 939.5,481.7 942.9,486.7 946.2,485.0 949.5,480.1 951.9,480.9 954.4,481.7 956.9,482.5 959.4,483.4 961.9,478.4 964.4,473.4 966.5,474.3 968.7,475.1 971.0,471.8 974.3,467.8 977.6,470.1 980.9,466.8 984.2,469.1 987.5,465.2 990.8,461.9 992.5,456.9 994.5,447.8 996.4,438.7 998.4,422.2 1001.4,412.2 1017.3,438.0 1020.6,438.7 1022.9,435.4 1025.6,438.7 1027.9,422.2 1030.5,422.2 1032.8,417.2 1035.5,410.6 1038.8,393.1 1040.8,391.9 1042.8,390.7 1044.7,386.0 1046.7,381.3 1048.7,376.5 1051.0,364.6 1053.3,352.7" fill="none" stroke="#f23333" stroke-width="1.3" stroke-linejoin="round"/>
<g fill="#fff" stroke="#f23333" stroke-width="1.35"><circle cx="639.2" cy="552.0" r="2.2"/><circle cx="641.1" cy="546.3" r="2.2"/><circle cx="643.1" cy="548.6" r="2.2"/><circle cx="645.7" cy="543.3" r="2.2"/><circle cx="648.4" cy="545.1" r="2.2"/><circle cx="651.2" cy="543.3" r="2.2"/><circle cx="653.0" cy="545.1" r="2.2"/><circle cx="655.8" cy="546.3" r="2.2"/><circle cx="658.8" cy="543.3" r="2.2"/><circle cx="660.4" cy="529.0" r="2.2"/><circle cx="662.2" cy="521.0" r="2.2"/><circle cx="665.0" cy="526.7" r="2.2"/><circle cx="668.0" cy="522.1" r="2.2"/><circle cx="671.4" cy="523.3" r="2.2"/><circle cx="674.4" cy="517.5" r="2.2"/><circle cx="677.7" cy="524.9" r="2.2"/><circle cx="680.7" cy="521.0" r="2.2"/><circle cx="684.1" cy="513.4" r="2.2"/><circle cx="686.4" cy="518.6" r="2.2"/><circle cx="688.3" cy="515.2" r="2.2"/><circle cx="690.6" cy="530.6" r="2.2"/><circle cx="693.3" cy="523.3" r="2.2"/><circle cx="696.3" cy="522.1" r="2.2"/><circle cx="697.9" cy="517.5" r="2.2"/><circle cx="700.9" cy="518.0" r="2.2"/><circle cx="703.2" cy="508.7" r="2.2"/><circle cx="705.5" cy="514.0" r="2.2"/><circle cx="707.6" cy="496.8" r="2.2"/><circle cx="709.9" cy="485.3" r="2.2"/><circle cx="712.4" cy="496.8" r="2.2"/><circle cx="714.4" cy="496.2" r="2.2"/><circle cx="716.3" cy="495.6" r="2.2"/><circle cx="719.3" cy="509.4" r="2.2"/><circle cx="726.2" cy="516.3" r="2.2"/><circle cx="729.0" cy="522.1" r="2.2"/><circle cx="732.5" cy="516.3" r="2.2"/><circle cx="735.9" cy="508.3" r="2.2"/><circle cx="739.4" cy="506.0" r="2.2"/><circle cx="742.8" cy="504.8" r="2.2"/><circle cx="745.1" cy="512.9" r="2.2"/><circle cx="748.0" cy="516.3" r="2.2"/><circle cx="750.9" cy="519.8" r="2.2"/><circle cx="752.0" cy="536.4" r="2.2"/><circle cx="755.0" cy="504.8" r="2.2"/><circle cx="757.5" cy="507.7" r="2.2"/><circle cx="760.0" cy="510.6" r="2.2"/><circle cx="762.1" cy="515.8" r="2.2"/><circle cx="764.1" cy="521.0" r="2.2"/><circle cx="766.7" cy="522.4" r="2.2"/><circle cx="769.2" cy="523.9" r="2.2"/><circle cx="771.5" cy="506.0" r="2.2"/><circle cx="773.8" cy="521.0" r="2.2"/><circle cx="777.3" cy="514.0" r="2.2"/><circle cx="780.7" cy="510.1" r="2.2"/><circle cx="784.2" cy="508.3" r="2.2"/><circle cx="787.2" cy="503.7" r="2.2"/><circle cx="790.4" cy="497.9" r="2.2"/><circle cx="792.2" cy="501.4" r="2.2"/><circle cx="794.1" cy="504.8" r="2.2"/><circle cx="796.8" cy="511.7" r="2.2"/><circle cx="800.3" cy="504.8" r="2.2"/><circle cx="803.7" cy="504.8" r="2.2"/><circle cx="807.2" cy="506.4" r="2.2"/><circle cx="809.5" cy="509.4" r="2.2"/><circle cx="812.5" cy="517.5" r="2.2"/><circle cx="815.3" cy="511.7" r="2.2"/><circle cx="817.6" cy="511.7" r="2.2"/><circle cx="819.9" cy="511.7" r="2.2"/><circle cx="822.2" cy="511.7" r="2.2"/><circle cx="824.5" cy="511.7" r="2.2"/><circle cx="827.9" cy="511.7" r="2.2"/><circle cx="829.1" cy="517.5" r="2.2"/><circle cx="831.4" cy="510.6" r="2.2"/><circle cx="834.8" cy="526.7" r="2.2"/><circle cx="838.3" cy="519.8" r="2.2"/><circle cx="841.7" cy="516.3" r="2.2"/><circle cx="845.2" cy="517.5" r="2.2"/><circle cx="848.6" cy="516.3" r="2.2"/><circle cx="851.6" cy="508.3" r="2.2"/><circle cx="854.9" cy="511.7" r="2.2"/><circle cx="857.9" cy="514.0" r="2.2"/><circle cx="861.3" cy="517.0" r="2.2"/><circle cx="864.8" cy="511.7" r="2.2"/><circle cx="868.2" cy="512.4" r="2.2"/><circle cx="870.5" cy="515.2" r="2.2"/><circle cx="874.0" cy="510.6" r="2.2"/><circle cx="877.4" cy="510.6" r="2.2"/><circle cx="880.2" cy="514.0" r="2.2"/><circle cx="882.1" cy="510.2" r="2.2"/><circle cx="884.1" cy="506.3" r="2.2"/><circle cx="886.5" cy="507.9" r="2.2"/><circle cx="888.8" cy="509.4" r="2.2"/><circle cx="890.9" cy="508.4" r="2.2"/><circle cx="892.9" cy="507.3" r="2.2"/><circle cx="895.0" cy="506.3" r="2.2"/><circle cx="897.2" cy="503.6" r="2.2"/><circle cx="899.3" cy="500.9" r="2.2"/><circle cx="901.5" cy="498.3" r="2.2"/><circle cx="903.7" cy="496.6" r="2.2"/><circle cx="905.9" cy="494.9" r="2.2"/><circle cx="908.1" cy="493.3" r="2.2"/><circle cx="910.6" cy="494.9" r="2.2"/><circle cx="913.1" cy="496.6" r="2.2"/><circle cx="915.3" cy="495.8" r="2.2"/><circle cx="917.5" cy="495.1" r="2.2"/><circle cx="919.7" cy="494.3" r="2.2"/><circle cx="922.2" cy="493.0" r="2.2"/><circle cx="924.7" cy="491.6" r="2.2"/><circle cx="927.1" cy="489.2" r="2.2"/><circle cx="929.6" cy="486.7" r="2.2"/><circle cx="931.6" cy="485.8" r="2.2"/><circle cx="933.6" cy="485.0" r="2.2"/><circle cx="936.2" cy="488.3" r="2.2"/><circle cx="939.5" cy="481.7" r="2.2"/><circle cx="942.9" cy="486.7" r="2.2"/><circle cx="946.2" cy="485.0" r="2.2"/><circle cx="949.5" cy="480.1" r="2.2"/><circle cx="951.9" cy="480.9" r="2.2"/><circle cx="954.4" cy="481.7" r="2.2"/><circle cx="956.9" cy="482.5" r="2.2"/><circle cx="959.4" cy="483.4" r="2.2"/><circle cx="961.9" cy="478.4" r="2.2"/><circle cx="964.4" cy="473.4" r="2.2"/><circle cx="966.5" cy="474.3" r="2.2"/><circle cx="968.7" cy="475.1" r="2.2"/><circle cx="971.0" cy="471.8" r="2.2"/><circle cx="974.3" cy="467.8" r="2.2"/><circle cx="977.6" cy="470.1" r="2.2"/><circle cx="980.9" cy="466.8" r="2.2"/><circle cx="984.2" cy="469.1" r="2.2"/><circle cx="987.5" cy="465.2" r="2.2"/><circle cx="990.8" cy="461.9" r="2.2"/><circle cx="992.5" cy="456.9" r="2.2"/><circle cx="994.5" cy="447.8" r="2.2"/><circle cx="996.4" cy="438.7" r="2.2"/><circle cx="998.4" cy="422.2" r="2.2"/><circle cx="1001.4" cy="412.2" r="2.2"/><circle cx="1017.3" cy="438.0" r="2.2"/><circle cx="1020.6" cy="438.7" r="2.2"/><circle cx="1022.9" cy="435.4" r="2.2"/><circle cx="1025.6" cy="438.7" r="2.2"/><circle cx="1027.9" cy="422.2" r="2.2"/><circle cx="1030.5" cy="422.2" r="2.2"/><circle cx="1032.8" cy="417.2" r="2.2"/><circle cx="1035.5" cy="410.6" r="2.2"/><circle cx="1038.8" cy="393.1" r="2.2"/><circle cx="1040.8" cy="391.9" r="2.2"/><circle cx="1042.8" cy="390.7" r="2.2"/><circle cx="1044.7" cy="386.0" r="2.2"/><circle cx="1046.7" cy="381.3" r="2.2"/><circle cx="1048.7" cy="376.5" r="2.2"/><circle cx="1051.0" cy="364.6" r="2.2"/><circle cx="1053.3" cy="352.7" r="2.2"/></g>
<polyline points="639.2,529.5 641.1,525.6 643.1,519.8 645.7,522.1 648.4,518.6 650.7,519.8 653.0,513.4 655.8,512.4 658.1,506.4 660.6,494.0 662.2,484.1 665.0,477.2 668.0,473.7 669.9,469.7 671.9,465.7 674.2,479.5 677.7,478.4 679.8,475.4 682.0,472.5 684.1,469.6 686.9,486.4 688.7,471.4 691.0,478.4 693.3,475.6 696.8,477.2 700.2,469.6 703.2,479.5 706.0,472.6 707.6,464.5 715.7,476.1 726.2,510.6 729.0,479.5 732.5,493.3 735.9,477.2 738.2,486.4 740.5,479.5 742.8,471.4 745.1,479.0 747.9,487.6 750.9,484.1 752.8,481.2 754.8,478.4 757.8,488.7 760.1,500.9 761.8,473.7 764.6,492.2 767.1,500.2 769.7,508.3 771.5,491.0 773.8,485.3 777.3,485.3 780.7,484.1 781.9,489.9 783.7,478.4 787.2,491.0 789.9,478.4 793.4,479.5 796.8,491.0 799.6,465.7 802.6,488.7 805.4,468.0 807.2,491.0 809.5,477.2 813.0,478.4 816.4,488.7 819.3,489.9 822.2,491.0 824.5,493.9 826.8,496.8 828.6,501.4 831.4,486.4 834.1,504.8 836.2,504.8 838.3,504.8 840.6,499.1 843.4,478.8 845.2,494.5 848.6,496.8 851.6,499.5 854.4,495.6 857.9,492.2 861.3,492.6 864.1,477.2 867.1,491.0 870.5,499.1 872.8,492.6 876.3,492.2 878.1,492.1 879.9,492.0 883.3,483.4 886.0,490.0 888.3,481.7 891.6,488.3 893.7,487.5 895.9,486.7 897.9,485.8 899.8,485.0 901.8,483.7 903.8,482.4 906.0,482.0 908.1,481.7 910.6,478.1 913.1,474.4 916.4,475.8 919.7,478.4 923.0,475.1 925.7,466.8 927.6,471.0 929.6,475.1 932.9,471.8 935.4,470.6 937.9,469.5 940.4,469.5 942.9,469.5 945.3,468.6 947.8,467.8 950.0,464.0 952.1,460.2 954.4,468.5 956.9,467.2 959.4,465.8 961.9,467.2 964.4,468.5 966.5,463.2 968.7,457.9 970.0,461.9 973.3,457.9 975.9,461.9 979.2,458.6 981.9,450.3 985.2,445.3 987.5,440.4 989.8,438.7 991.8,443.7 995.1,432.8 997.1,433.7 999.1,434.7 1001.7,432.1 1008.3,387.4 1017.3,406.3 1020.6,417.2 1022.2,404.0 1025.6,401.7 1027.2,412.2 1030.5,404.0 1032.8,387.4 1033.8,392.4 1037.1,384.1 1039.4,379.2 1042.1,359.3 1043.7,344.4 1046.2,351.5 1048.7,358.7 1052.0,390.7 1053.3,328.9" fill="none" stroke="#3b3bf2" stroke-width="1.3" stroke-linejoin="round"/>
<g fill="#fff" stroke="#3b3bf2" stroke-width="1.35"><circle cx="639.2" cy="529.5" r="2.2"/><circle cx="641.1" cy="525.6" r="2.2"/><circle cx="643.1" cy="519.8" r="2.2"/><circle cx="645.7" cy="522.1" r="2.2"/><circle cx="648.4" cy="518.6" r="2.2"/><circle cx="650.7" cy="519.8" r="2.2"/><circle cx="653.0" cy="513.4" r="2.2"/><circle cx="655.8" cy="512.4" r="2.2"/><circle cx="658.1" cy="506.4" r="2.2"/><circle cx="660.6" cy="494.0" r="2.2"/><circle cx="662.2" cy="484.1" r="2.2"/><circle cx="665.0" cy="477.2" r="2.2"/><circle cx="668.0" cy="473.7" r="2.2"/><circle cx="669.9" cy="469.7" r="2.2"/><circle cx="671.9" cy="465.7" r="2.2"/><circle cx="674.2" cy="479.5" r="2.2"/><circle cx="677.7" cy="478.4" r="2.2"/><circle cx="679.8" cy="475.4" r="2.2"/><circle cx="682.0" cy="472.5" r="2.2"/><circle cx="684.1" cy="469.6" r="2.2"/><circle cx="686.9" cy="486.4" r="2.2"/><circle cx="688.7" cy="471.4" r="2.2"/><circle cx="691.0" cy="478.4" r="2.2"/><circle cx="693.3" cy="475.6" r="2.2"/><circle cx="696.8" cy="477.2" r="2.2"/><circle cx="700.2" cy="469.6" r="2.2"/><circle cx="703.2" cy="479.5" r="2.2"/><circle cx="706.0" cy="472.6" r="2.2"/><circle cx="707.6" cy="464.5" r="2.2"/><circle cx="715.7" cy="476.1" r="2.2"/><circle cx="726.2" cy="510.6" r="2.2"/><circle cx="729.0" cy="479.5" r="2.2"/><circle cx="732.5" cy="493.3" r="2.2"/><circle cx="735.9" cy="477.2" r="2.2"/><circle cx="738.2" cy="486.4" r="2.2"/><circle cx="740.5" cy="479.5" r="2.2"/><circle cx="742.8" cy="471.4" r="2.2"/><circle cx="745.1" cy="479.0" r="2.2"/><circle cx="747.9" cy="487.6" r="2.2"/><circle cx="750.9" cy="484.1" r="2.2"/><circle cx="752.8" cy="481.2" r="2.2"/><circle cx="754.8" cy="478.4" r="2.2"/><circle cx="757.8" cy="488.7" r="2.2"/><circle cx="760.1" cy="500.9" r="2.2"/><circle cx="761.8" cy="473.7" r="2.2"/><circle cx="764.6" cy="492.2" r="2.2"/><circle cx="767.1" cy="500.2" r="2.2"/><circle cx="769.7" cy="508.3" r="2.2"/><circle cx="771.5" cy="491.0" r="2.2"/><circle cx="773.8" cy="485.3" r="2.2"/><circle cx="777.3" cy="485.3" r="2.2"/><circle cx="780.7" cy="484.1" r="2.2"/><circle cx="781.9" cy="489.9" r="2.2"/><circle cx="783.7" cy="478.4" r="2.2"/><circle cx="787.2" cy="491.0" r="2.2"/><circle cx="789.9" cy="478.4" r="2.2"/><circle cx="793.4" cy="479.5" r="2.2"/><circle cx="796.8" cy="491.0" r="2.2"/><circle cx="799.6" cy="465.7" r="2.2"/><circle cx="802.6" cy="488.7" r="2.2"/><circle cx="805.4" cy="468.0" r="2.2"/><circle cx="807.2" cy="491.0" r="2.2"/><circle cx="809.5" cy="477.2" r="2.2"/><circle cx="813.0" cy="478.4" r="2.2"/><circle cx="816.4" cy="488.7" r="2.2"/><circle cx="819.3" cy="489.9" r="2.2"/><circle cx="822.2" cy="491.0" r="2.2"/><circle cx="824.5" cy="493.9" r="2.2"/><circle cx="826.8" cy="496.8" r="2.2"/><circle cx="828.6" cy="501.4" r="2.2"/><circle cx="831.4" cy="486.4" r="2.2"/><circle cx="834.1" cy="504.8" r="2.2"/><circle cx="836.2" cy="504.8" r="2.2"/><circle cx="838.3" cy="504.8" r="2.2"/><circle cx="840.6" cy="499.1" r="2.2"/><circle cx="843.4" cy="478.8" r="2.2"/><circle cx="845.2" cy="494.5" r="2.2"/><circle cx="848.6" cy="496.8" r="2.2"/><circle cx="851.6" cy="499.5" r="2.2"/><circle cx="854.4" cy="495.6" r="2.2"/><circle cx="857.9" cy="492.2" r="2.2"/><circle cx="861.3" cy="492.6" r="2.2"/><circle cx="864.1" cy="477.2" r="2.2"/><circle cx="867.1" cy="491.0" r="2.2"/><circle cx="870.5" cy="499.1" r="2.2"/><circle cx="872.8" cy="492.6" r="2.2"/><circle cx="876.3" cy="492.2" r="2.2"/><circle cx="878.1" cy="492.1" r="2.2"/><circle cx="879.9" cy="492.0" r="2.2"/><circle cx="883.3" cy="483.4" r="2.2"/><circle cx="886.0" cy="490.0" r="2.2"/><circle cx="888.3" cy="481.7" r="2.2"/><circle cx="891.6" cy="488.3" r="2.2"/><circle cx="893.7" cy="487.5" r="2.2"/><circle cx="895.9" cy="486.7" r="2.2"/><circle cx="897.9" cy="485.8" r="2.2"/><circle cx="899.8" cy="485.0" r="2.2"/><circle cx="901.8" cy="483.7" r="2.2"/><circle cx="903.8" cy="482.4" r="2.2"/><circle cx="906.0" cy="482.0" r="2.2"/><circle cx="908.1" cy="481.7" r="2.2"/><circle cx="910.6" cy="478.1" r="2.2"/><circle cx="913.1" cy="474.4" r="2.2"/><circle cx="916.4" cy="475.8" r="2.2"/><circle cx="919.7" cy="478.4" r="2.2"/><circle cx="923.0" cy="475.1" r="2.2"/><circle cx="925.7" cy="466.8" r="2.2"/><circle cx="927.6" cy="471.0" r="2.2"/><circle cx="929.6" cy="475.1" r="2.2"/><circle cx="932.9" cy="471.8" r="2.2"/><circle cx="935.4" cy="470.6" r="2.2"/><circle cx="937.9" cy="469.5" r="2.2"/><circle cx="940.4" cy="469.5" r="2.2"/><circle cx="942.9" cy="469.5" r="2.2"/><circle cx="945.3" cy="468.6" r="2.2"/><circle cx="947.8" cy="467.8" r="2.2"/><circle cx="950.0" cy="464.0" r="2.2"/><circle cx="952.1" cy="460.2" r="2.2"/><circle cx="954.4" cy="468.5" r="2.2"/><circle cx="956.9" cy="467.2" r="2.2"/><circle cx="959.4" cy="465.8" r="2.2"/><circle cx="961.9" cy="467.2" r="2.2"/><circle cx="964.4" cy="468.5" r="2.2"/><circle cx="966.5" cy="463.2" r="2.2"/><circle cx="968.7" cy="457.9" r="2.2"/><circle cx="970.0" cy="461.9" r="2.2"/><circle cx="973.3" cy="457.9" r="2.2"/><circle cx="975.9" cy="461.9" r="2.2"/><circle cx="979.2" cy="458.6" r="2.2"/><circle cx="981.9" cy="450.3" r="2.2"/><circle cx="985.2" cy="445.3" r="2.2"/><circle cx="987.5" cy="440.4" r="2.2"/><circle cx="989.8" cy="438.7" r="2.2"/><circle cx="991.8" cy="443.7" r="2.2"/><circle cx="995.1" cy="432.8" r="2.2"/><circle cx="997.1" cy="433.7" r="2.2"/><circle cx="999.1" cy="434.7" r="2.2"/><circle cx="1001.7" cy="432.1" r="2.2"/><circle cx="1008.3" cy="387.4" r="2.2"/><circle cx="1017.3" cy="406.3" r="2.2"/><circle cx="1020.6" cy="417.2" r="2.2"/><circle cx="1022.2" cy="404.0" r="2.2"/><circle cx="1025.6" cy="401.7" r="2.2"/><circle cx="1027.2" cy="412.2" r="2.2"/><circle cx="1030.5" cy="404.0" r="2.2"/><circle cx="1032.8" cy="387.4" r="2.2"/><circle cx="1033.8" cy="392.4" r="2.2"/><circle cx="1037.1" cy="384.1" r="2.2"/><circle cx="1039.4" cy="379.2" r="2.2"/><circle cx="1042.1" cy="359.3" r="2.2"/><circle cx="1043.7" cy="344.4" r="2.2"/><circle cx="1046.2" cy="351.5" r="2.2"/><circle cx="1048.7" cy="358.7" r="2.2"/><circle cx="1052.0" cy="390.7" r="2.2"/><circle cx="1053.3" cy="328.9" r="2.2"/></g>
</g>
<rect x="964.5" y="288.2" width="103.90000000000009" height="385.8" fill="none" stroke="#fb1212" stroke-width="2.5" stroke-dasharray="8.7,3"/>
</svg>
</body></html>
